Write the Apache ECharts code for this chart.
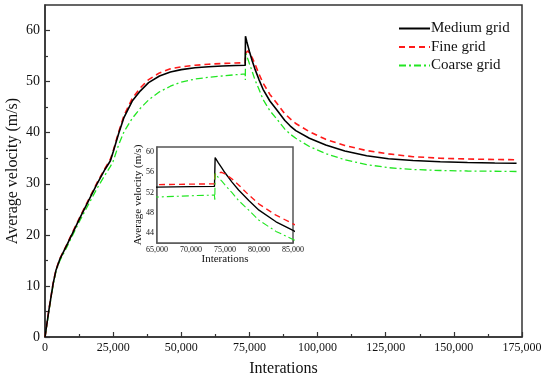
<!DOCTYPE html>
<html>
<head>
<meta charset="utf-8">
<script src="https://cdn.jsdelivr.net/npm/echarts@6/dist/echarts.min.js"></script>
<style>html,body{margin:0;padding:0;background:#fff;}#c{width:550px;height:381px;}</style>
</head>
<body>
<div id="c"></div>
<script>
const iterations = [0, 1500, 3000, 4000, 5500, 8000, 10000, 13000, 16000, 19000, 22000, 24000, 25000, 27000, 29000, 32000, 35000, 38000, 42000, 46000, 50000, 55000, 60000, 65000, 70000, 73450, 73500, 73550, 74000, 74500, 75000, 76000, 77000, 78500, 80000, 82500, 85000, 88000, 90000, 92000, 97000, 103000, 110000, 118000, 126000, 135000, 145000, 155000, 165000, 173000];
const mediumGrid = [0, 5.5, 10.5, 13, 15.3, 18, 20.2, 23.5, 26.7, 29.9, 32.8, 34.5, 36.2, 39.8, 43.0, 46.2, 48.2, 49.8, 51.1, 51.9, 52.35, 52.7, 52.9, 53.05, 53.15, 53.2, 56.0, 58.9, 57.9, 56.9, 55.9, 54.1, 52.5, 50.4, 48.5, 46.2, 44.5, 42.4, 41.3, 40.4, 38.9, 37.6, 36.4, 35.5, 34.9, 34.55, 34.3, 34.15, 34.07, 34.03];
const fineGrid = [0, 5.6, 10.6, 13.1, 15.4, 18.1, 20.4, 23.7, 26.9, 30.1, 33.0, 34.8, 36.4, 40.1, 43.4, 46.7, 48.8, 50.4, 51.7, 52.5, 52.9, 53.2, 53.4, 53.55, 53.65, 53.7, 54.8, 55.6, 55.9, 56.0, 55.7, 54.7, 53.5, 51.5, 49.7, 47.5, 45.8, 43.7, 42.7, 41.8, 40.2, 38.7, 37.5, 36.5, 35.85, 35.3, 35.0, 34.85, 34.75, 34.7];
const coarseGrid = [0, 5.2, 10.2, 12.8, 15.0, 17.6, 19.8, 23.0, 26.0, 29.0, 31.7, 33.4, 34.4, 37.6, 40.2, 42.8, 44.8, 46.4, 48.0, 49.1, 49.9, 50.5, 50.85, 51.1, 51.35, 51.5, 50.3, 55.8, 55.0, 54.3, 53.5, 52.0, 50.4, 48.5, 46.5, 44.3, 42.7, 40.7, 39.7, 38.9, 37.3, 35.9, 34.7, 33.75, 33.15, 32.8, 32.6, 32.5, 32.45, 32.4];
const seriesNames = ['Medium grid', 'Fine grid', 'Coarse grid'];
const mainYTicks = [0, 10, 20, 30, 40, 50, 60];
const mainYMinorTicks = [5, 15, 25, 35, 45, 55];
const insetYTicks = [44, 48, 52, 56, 60];
const insetYMinorTicks = [46, 50, 54, 58];

const FONT = "'Liberation Serif', 'Times New Roman', serif";
const TXT = '#111';
const AX = '#333';
const pairs = arr => iterations.map((x, i) => [x, arr[i]]);
const fmt = v => v.toLocaleString('en-US');

const styles = [
  {color: '#000000', type: 'solid', width: 1.6},
  {color: '#ff1a1a', type: [6, 4], width: 1.6},
  {color: '#22e622', type: [7, 3, 2, 3], width: 1.3}
];
const dataSets = [mediumGrid, fineGrid, coarseGrid];

const series = [];
dataSets.forEach((d, i) => {
  series.push({
    name: seriesNames[i], type: 'line', xAxisIndex: 0, yAxisIndex: 0,
    data: pairs(d), symbol: 'none', showSymbol: false, animation: false,
    lineStyle: {color: styles[i].color, type: styles[i].type, width: styles[i].width},
    itemStyle: {color: styles[i].color}, z: 5 - i
  });
});
dataSets.forEach((d, i) => {
  series.push({
    name: seriesNames[i] + ' (inset)', type: 'line', xAxisIndex: 1, yAxisIndex: 2,
    data: pairs(d), symbol: 'none', showSymbol: false, animation: false, clip: true,
    lineStyle: {color: styles[i].color, type: styles[i].type, width: styles[i].width * 0.85},
    itemStyle: {color: styles[i].color}, z: 10
  });
});

const chart = echarts.init(document.getElementById('c'), null, {renderer: 'canvas'});
chart.setOption({
  animation: false,
  backgroundColor: '#fff',
  textStyle: {fontFamily: FONT},
  grid: [
    {left: 45, right: 28, top: 5, bottom: 44, show: true, borderColor: AX, borderWidth: 1.5, backgroundColor: 'transparent', containLabel: false, outerBoundsMode: 'none'},
    {left: 157, top: 147, width: 136, height: 96, show: true, borderColor: '#555', borderWidth: 1.5, backgroundColor: '#fff', containLabel: false, outerBoundsMode: 'none', z: 5}
  ],
  legend: {
    data: seriesNames.map(n => ({name: n})),
    orient: 'vertical', left: 393, top: 16, itemWidth: 31, itemHeight: 12, itemGap: 3.5,
    itemStyle: {opacity: 0},
    textStyle: {fontFamily: FONT, fontSize: 15, color: TXT, padding: [0, 0, 0, -4]},
    selectedMode: false
  },
  xAxis: [
    {type: 'value', gridIndex: 0, min: 0, max: 175000, interval: 25000,
     name: 'Interations', nameLocation: 'middle', nameGap: 24, nameMoveOverlap: false,
     nameTextStyle: {fontFamily: FONT, fontSize: 16, color: TXT},
     axisLine: {show: true, lineStyle: {color: AX, width: 1.5}},
     axisTick: {show: true, inside: true, length: 5, lineStyle: {color: AX, width: 1.2}},
     minorTick: {show: true, splitNumber: 2, length: 3, lineStyle: {color: AX, width: 1.2}},
     splitLine: {show: false},
     axisLabel: {fontFamily: FONT, fontSize: 12, color: TXT, margin: 5, formatter: fmt}},
    {type: 'value', gridIndex: 1, min: 65000, max: 85000, interval: 5000,
     name: 'Interations', nameLocation: 'middle', nameGap: 11, nameMoveOverlap: false,
     nameTextStyle: {fontFamily: FONT, fontSize: 11, color: TXT},
     axisLine: {show: true, lineStyle: {color: '#555', width: 1.5}},
     axisTick: {show: true, inside: true, length: 3, lineStyle: {color: '#555', width: 1}},
     minorTick: {show: true, splitNumber: 2, length: 2, lineStyle: {color: '#555', width: 1}},
     splitLine: {show: false},
     axisLabel: {fontFamily: FONT, fontSize: 8, color: TXT, margin: 3, formatter: fmt}}
  ],
  yAxis: [
    {type: 'value', gridIndex: 0, min: 0, max: 65,
     name: 'Average velocity (m/s)', nameLocation: 'middle', nameGap: 24, nameMoveOverlap: false,
     nameTextStyle: {fontFamily: FONT, fontSize: 16, color: TXT},
     axisLine: {show: true, lineStyle: {color: AX, width: 1.5}},
     axisTick: {show: true, inside: true, length: 5, customValues: mainYTicks, lineStyle: {color: AX, width: 1.2}},
     splitLine: {show: false},
     axisLabel: {fontFamily: FONT, fontSize: 14, color: TXT, margin: 5, customValues: mainYTicks}},
    {type: 'value', gridIndex: 0, min: 0, max: 65, position: 'left',
     axisLine: {show: false},
     axisTick: {show: true, inside: true, length: 3, customValues: mainYMinorTicks, lineStyle: {color: AX, width: 1.2}},
     splitLine: {show: false},
     axisLabel: {show: false}},
    {type: 'value', gridIndex: 1, min: 42, max: 61,
     name: 'Average velocity (m/s)', nameLocation: 'middle', nameGap: 13, nameMoveOverlap: false,
     nameTextStyle: {fontFamily: FONT, fontSize: 11, color: TXT},
     axisLine: {show: true, lineStyle: {color: '#555', width: 1.5}},
     axisTick: {show: true, inside: true, length: 3, customValues: insetYTicks, lineStyle: {color: '#555', width: 1}},
     splitLine: {show: false},
     axisLabel: {fontFamily: FONT, fontSize: 8, color: TXT, margin: 3, customValues: insetYTicks}},
    {type: 'value', gridIndex: 1, min: 42, max: 61, position: 'left',
     axisLine: {show: false},
     axisTick: {show: true, inside: true, length: 2, customValues: insetYMinorTicks, lineStyle: {color: '#555', width: 1}},
     splitLine: {show: false},
     axisLabel: {show: false}}
  ],
  series: series
});
</script>
</body>
</html>
